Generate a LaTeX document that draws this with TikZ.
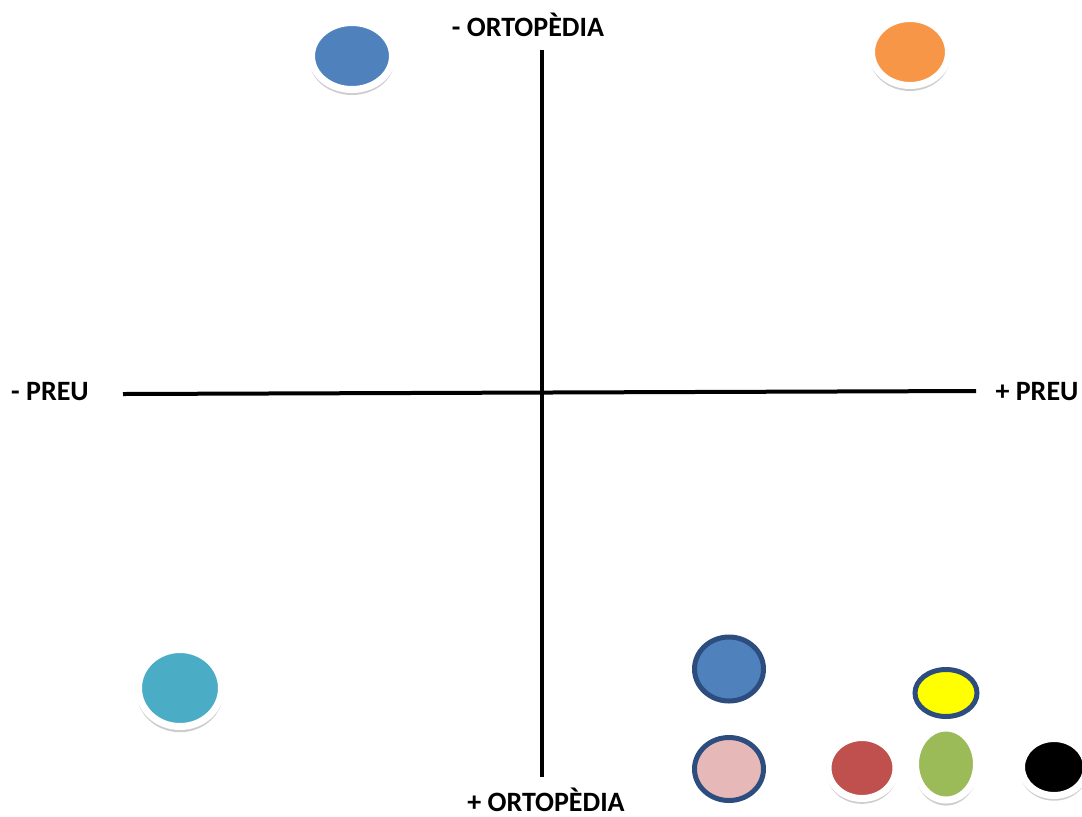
\documentclass[tikz,border=0pt]{standalone}
\usepackage{fontspec}
\setmainfont{Carlito}
\usetikzlibrary{shapes.geometric, positioning, shadows}
\definecolor{MkBlue}{RGB}{79,129,189}
\definecolor{MkOrange}{RGB}{247,150,70}
\definecolor{MkCyan}{RGB}{75,172,198}
\definecolor{MkRim}{RGB}{44,77,125}
\definecolor{MkPink}{RGB}{230,185,184}
\definecolor{MkRed}{RGB}{192,80,77}
\definecolor{MkGreen}{RGB}{155,187,89}
\definecolor{MkYellow}{RGB}{255,255,0}

\begin{document}
\begin{tikzpicture}[x=0.5pt, y=-0.5pt,
          dot/.style={ellipse, inner sep=0pt, draw=white, line width=3.5pt,
                      drop shadow={shadow xshift=0pt, shadow yshift=-1.8pt,
                                   shadow scale=1.05, opacity=0.28,
                                   fill=black!70}},
          rim/.style={ellipse, inner sep=0pt, draw=MkRim, line width=2.5pt},
          lbl/.style={font=\fontsize{14pt}{16pt}\selectfont\bfseries,
                      anchor=base, inner sep=0pt},
          axis/.style={draw=black, line width=2pt}
        ]
        \useasboundingbox (0,0) rectangle (1082,816);

        % axes
        \coordinate (ytop) at (542,50);
        \coordinate (ybot) at (542,777);
        \coordinate (xlft) at (123,394);
        \coordinate (xrgt) at (976,391);
        \draw[axis] (ytop)--(ybot);
        \draw[axis] (xlft)--(xrgt);
        \node[lbl] (ortmin) at (528,36)  {- ORTOPÈDIA};
        \node[lbl] (ortmax) at (546,811) {+ ORTOPÈDIA};
        \node[lbl] (prmin)  at (50,400)  {- PREU};
        \node[lbl] (prmax)  at (1037,400) {+ PREU};

        % marks with white rim
        \node[dot, fill=MkBlue, minimum width=40.5pt, minimum height=33.5pt]
              (bluetop) at (352,56) {};
        \node[dot, fill=MkOrange, minimum width=38.5pt, minimum height=33.5pt]
              (orange) at (910,52) {};
        \node[dot, fill=MkCyan, minimum width=41.5pt, minimum height=38.5pt]
              (cyan) at (180,688) {};
        \node[dot, fill=MkRed, minimum width=34pt, minimum height=30.5pt]
              (red) at (862,768) {};
        \node[dot, fill=MkGreen, minimum width=30.5pt, minimum height=36pt]
              (green) at (946,764) {};
        \node[dot, fill=black, minimum width=32.5pt, minimum height=28.5pt]
              (black) at (1054,767) {};

        % marks with dark rim
        \node[rim, fill=MkBlue, minimum width=34.5pt, minimum height=32pt]
              (bluebot) at (729,669) {};
        \node[rim, fill=MkPink, minimum width=34.5pt, minimum height=31.5pt]
              (pink) at (729,769) {};
        \node[rim, fill=MkYellow, minimum width=31pt, minimum height=23.5pt]
              (yellow) at (946,693) {};
      \end{tikzpicture}
\end{document}
